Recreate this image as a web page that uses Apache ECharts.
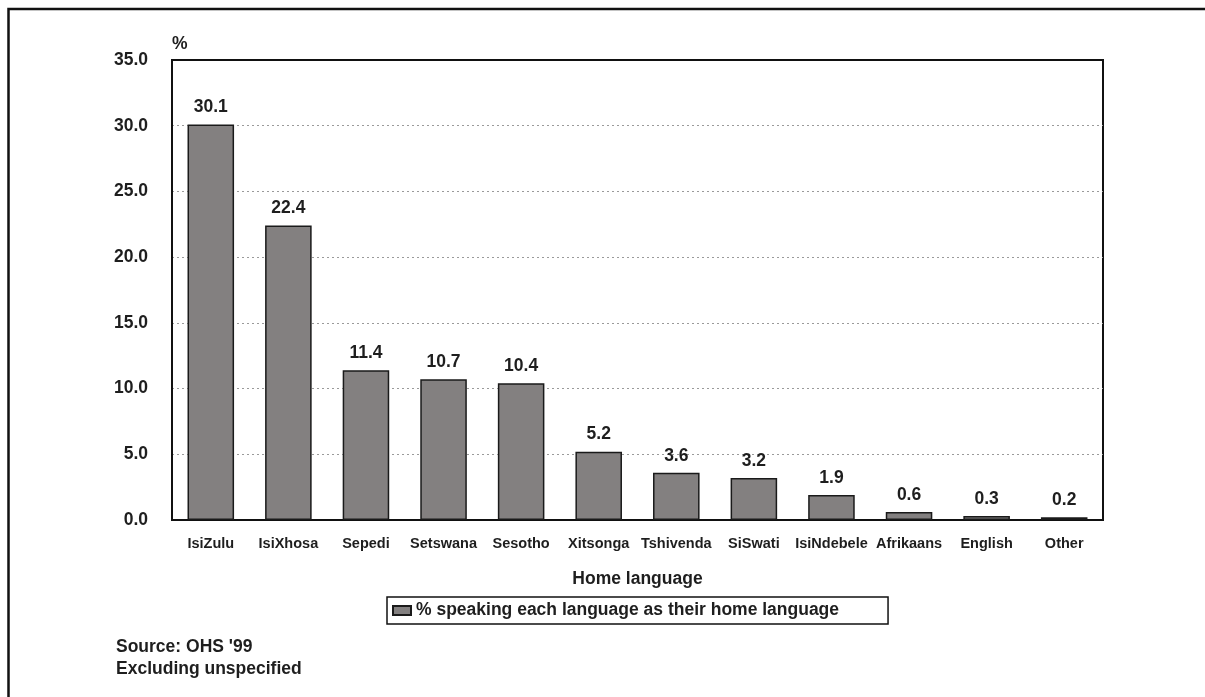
<!DOCTYPE html>
<html>
<head>
<meta charset="utf-8">
<script src="https://cdn.jsdelivr.net/npm/echarts@6/dist/echarts.min.js"></script>
<style>
html,body{margin:0;padding:0;background:#fff;}
#chart{width:1205px;height:697px;}
</style>
</head>
<body>
<div id="chart"></div>
<script>
const categories = ['IsiZulu','IsiXhosa','Sepedi','Setswana','Sesotho','Xitsonga','Tshivenda','SiSwati','IsiNdebele','Afrikaans','English','Other'];
const values = [30.1, 22.4, 11.4, 10.7, 10.4, 5.2, 3.6, 3.2, 1.9, 0.6, 0.3, 0.2];
const seriesName = '% speaking each language as their home language';
const xAxisTitle = 'Home language';
const yAxisTitle = '%';
const noteLines = ["Source: OHS '99", 'Excluding unspecified'];

const FONT = "'Liberation Sans', Arial, sans-serif";
const TXT = '#1e1e1e';
const chart = echarts.init(document.getElementById('chart'), null, {renderer:'canvas'});
chart.setOption({
  backgroundColor:'#fff',
  animation:false,
  textStyle:{fontFamily:FONT},
  grid:{left:172, top:60, right:102, bottom:177, show:true, borderColor:'#111', borderWidth:2, backgroundColor:'transparent'},
  legend:{
    left:387, top:597,
    data:[seriesName],
    icon:'rect',
    itemWidth:18, itemHeight:9,
    padding:[4,49,4,5],
    borderColor:'#111', borderWidth:1.5,
    textStyle:{fontFamily:FONT, fontWeight:'bold', fontSize:17.5, color:TXT, lineHeight:19},
    selectedMode:false
  },
  xAxis:{
    type:'category', data:categories,
    name:xAxisTitle, nameLocation:'middle', nameGap:50,
    nameTextStyle:{fontFamily:FONT, fontWeight:'bold', fontSize:17.5, color:TXT},
    axisLine:{show:true, lineStyle:{color:'#111', width:2}},
    axisTick:{show:false},
    axisLabel:{interval:0, margin:16, fontFamily:FONT, fontWeight:'bold', fontSize:14.5, color:TXT}
  },
  yAxis:{
    type:'value', min:0, max:35, interval:5,
    name:yAxisTitle, nameLocation:'end', nameGap:7,
    nameTextStyle:{fontFamily:FONT, fontWeight:'bold', fontSize:17.5, color:TXT, align:'left'},
    axisLine:{show:true, lineStyle:{color:'#111', width:2}},
    axisTick:{show:false},
    axisLabel:{margin:24, fontFamily:FONT, fontWeight:'bold', fontSize:17.5, color:TXT, formatter:v=>v.toFixed(1)},
    splitLine:{show:true, showMaxLine:false, lineStyle:{color:'#9a9a9a', type:[2,3], width:1}}
  },
  series:[{
    name:seriesName, type:'bar', data:values,
    barCategoryGap:'40%',
    itemStyle:{color:'#838080', borderColor:'#1a1a1a', borderWidth:1.5},
    label:{show:true, position:'top', distance:8, fontFamily:FONT, fontWeight:'bold', fontSize:17.5, color:TXT, formatter:p=>p.value.toFixed(1)}
  }],
  graphic:[
    {type:'rect', shape:{x:8.5, y:9, width:1400, height:900}, style:{fill:'none', stroke:'#111', lineWidth:2.5}, silent:true},
    {type:'text', left:116, top:636, style:{text:noteLines.join('\n'), fontFamily:FONT, fontWeight:'bold', fontSize:17.5, lineHeight:22, fill:TXT}}
  ]
});
</script>
</body>
</html>
